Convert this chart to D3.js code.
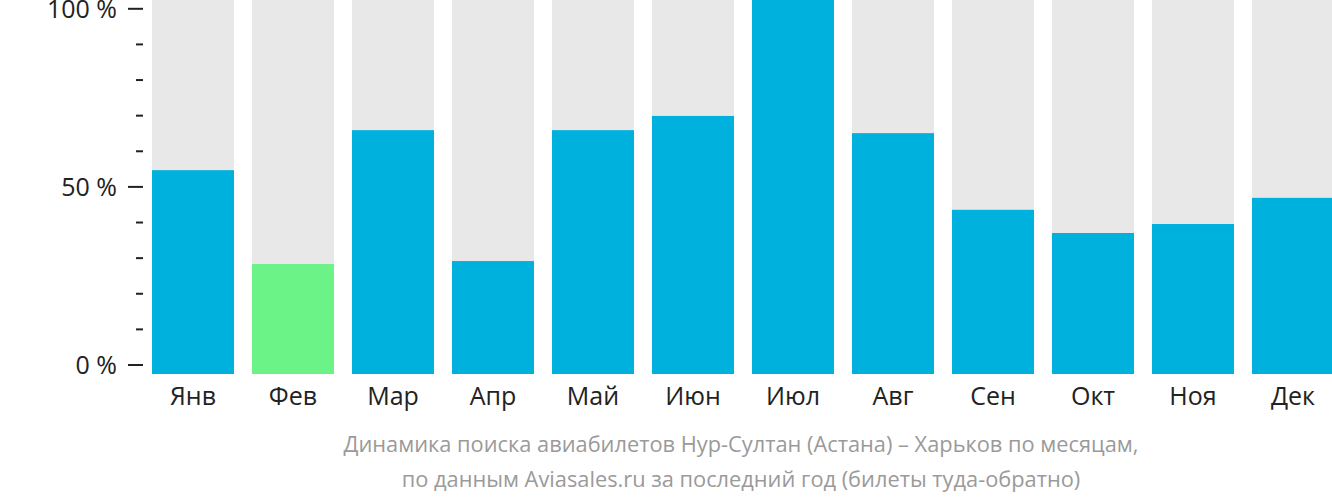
<!DOCTYPE html>
<html>
<head>
<meta charset="utf-8">
<script src="https://cdn.jsdelivr.net/npm/d3@7"></script>
<style>
html,body{margin:0;padding:0;background:#fff;}
svg{display:block;font-family:"Open Sans","Noto Sans",sans-serif;}
</style>
</head>
<body>
<svg id="chart" width="1332" height="502"></svg>
<script>
const months = ["Янв","Фев","Мар","Апр","Май","Июн","Июл","Авг","Сен","Окт","Ноя","Дек"];
const values = [54.5, 29.4, 65.2, 30.2, 65.2, 69.0, 100, 64.4, 43.9, 37.7, 40.1, 47.1];
const highlight = [false, true, false, false, false, false, false, false, false, false, false, false];
const tickValues = [0,10,20,30,40,50,60,70,80,90,100];
const tickLabels = {0:"0 %", 50:"50 %", 100:"100 %"};
const captionLines = [
  "Динамика поиска авиабилетов Нур-Султан (Астана) – Харьков по месяцам,",
  "по данным Aviasales.ru за последний год (билеты туда-обратно)"
];

const svg = d3.select("#chart");
const x = d3.scaleBand().domain(months).range([143, 1343]).paddingInner(0.18).paddingOuter(0.09);
const yBar = d3.scaleLinear().domain([0,100]).range([374, 0]);
const yAxis = d3.scaleLinear().domain([0,100]).range([364.5, 8.3]);

// background bars
svg.append("g").selectAll("rect").data(months).join("rect")
  .attr("x", d => x(d)).attr("width", x.bandwidth())
  .attr("y", yBar(100)).attr("height", yBar(0) - yBar(100))
  .attr("fill", "#e8e8e8");

// value bars
svg.append("g").selectAll("rect").data(values).join("rect")
  .attr("x", (d,i) => x(months[i])).attr("width", x.bandwidth())
  .attr("y", d => yBar(d)).attr("height", d => yBar(0) - yBar(d))
  .attr("fill", (d,i) => highlight[i] ? "#6bf388" : "#00b1dd");

// y axis
const ax = svg.append("g").attr("transform", "translate(143,0)")
  .call(d3.axisLeft(yAxis).tickValues(tickValues)
    .tickSize(0).tickPadding(26)
    .tickFormat(d => tickLabels[d] || ""));
ax.select(".domain").remove();
ax.selectAll(".tick text").attr("fill", "#222").style("font-size", "25px")
  .style("font-family", "'Open Sans','Noto Sans',sans-serif").attr("dy", "0.36em");
ax.selectAll(".tick").append("line")
  .attr("x1", d => tickLabels[d] ? -15 : -7).attr("x2", 0)
  .attr("y1", 0).attr("y2", 0)
  .attr("stroke", "#222").attr("stroke-width", 2);

// x labels
const xa = svg.append("g").attr("transform", "translate(0,374)")
  .call(d3.axisBottom(x).tickSize(0).tickPadding(13));
xa.select(".domain").remove();
xa.selectAll(".tick text").attr("fill", "#222").style("font-size", "25px")
  .style("font-family", "'Open Sans','Noto Sans',sans-serif");

// caption
svg.append("g").selectAll("text").data(captionLines).join("text")
  .attr("x", 741).attr("y", (d,i) => 452 + i*34.5)
  .attr("text-anchor", "middle")
  .attr("fill", "#9a9a9a")
  .style("font-size", "21.8px")
  .text(d => d);
</script>
</body>
</html>
